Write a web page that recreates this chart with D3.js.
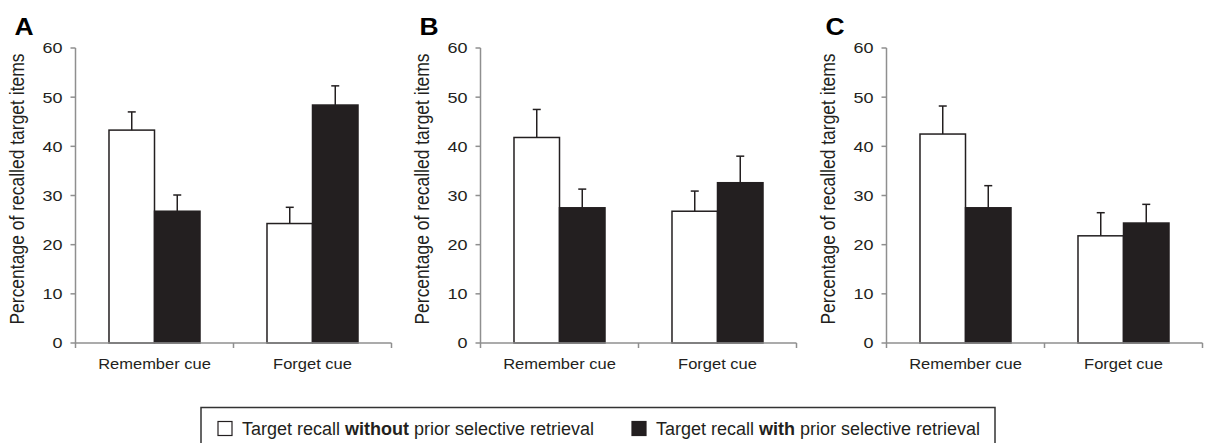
<!DOCTYPE html>
<html>
<head>
<meta charset="utf-8">
<script src="https://cdn.jsdelivr.net/npm/d3@7"></script>
<style>
  body { margin: 0; background: #fff; }
  svg { display: block; font-family: "Liberation Sans", Arial, sans-serif; }
</style>
</head>
<body>
<div id="chart"></div>
<script>
const panelNames = ["A", "B", "C"]
const cues = ["Remember cue", "Forget cue"]
const seriesNames = ["without", "with"]
const yTicks = [0, 10, 20, 30, 40, 50, 60]

// means, per panel, per cue: [without, with]
const meansA = [[43.3, 26.8], [24.3, 48.4]]
const meansB = [[41.8, 27.5], [26.8, 32.6]]
const meansC = [[42.5, 27.5], [21.8, 24.4]]
// top of the error bar (mean + error)
const upperA = [[47.0, 30.1], [27.6, 52.3]]
const upperB = [[47.5, 31.3], [30.9, 38.0]]
const upperC = [[48.2, 32.0], [26.5, 28.2]]

const means = [meansA, meansB, meansC]
const uppers = [upperA, upperB, upperC]

const width = 1206
const height = 443
const dark = "#231f20"
const axisGrey = "#8f8f8f"

const svg = d3.select("#chart")
  .append("svg")
  .attr("width", width)
  .attr("height", height)

const axisLefts = [75.5, 480.5, 886.5]
const plotW = 316

const yScale = d3.scaleLinear()
  .domain([0, 60])
  .range([343, 48])

// the panel text in the figure is a bit wider than plain Arial
const stretched = (g, x, y, sx) => g.append("g")
  .attr("transform", `translate(${x},${y}) scale(${sx},1)`)
  .append("text")

panelNames.forEach((name, p) => {
  const g = svg.append("g").attr("transform", `translate(${axisLefts[p]},0)`)

  const x0 = d3.scaleBand().domain(cues).range([0, plotW]).padding(0)
  const x1 = d3.scaleBand().domain(seriesNames).range([0, x0.bandwidth()])
    .paddingInner(0).paddingOuter(0.736)

  // bars
  cues.forEach((cue, c) => {
    seriesNames.forEach((s, k) => {
      const v = means[p][c][k]
      const cx = x0(cue) + x1(s) + x1.bandwidth() / 2
      g.append("rect")
        .attr("x", x0(cue) + x1(s))
        .attr("y", yScale(v))
        .attr("width", x1.bandwidth())
        .attr("height", yScale(0) - yScale(v))
        .attr("fill", k === 0 ? "#fff" : dark)
        .attr("stroke", dark)
        .attr("stroke-width", 1.5)
      // error bar (upper only)
      g.append("line")
        .attr("x1", cx).attr("x2", cx)
        .attr("y1", yScale(v)).attr("y2", yScale(uppers[p][c][k]))
        .attr("stroke", dark).attr("stroke-width", 1.5)
      g.append("line")
        .attr("x1", cx - 4).attr("x2", cx + 4)
        .attr("y1", yScale(uppers[p][c][k])).attr("y2", yScale(uppers[p][c][k]))
        .attr("stroke", dark).attr("stroke-width", 1.5)
    })
  })

  // y axis
  g.append("line")
    .attr("x1", 0).attr("x2", 0)
    .attr("y1", yScale(60)).attr("y2", yScale(0))
    .attr("stroke", axisGrey).attr("stroke-width", 1.5)
  yTicks.forEach(t => {
    g.append("line")
      .attr("x1", -5).attr("x2", 0)
      .attr("y1", yScale(t)).attr("y2", yScale(t))
      .attr("stroke", axisGrey).attr("stroke-width", 1.5)
    stretched(g, -13, yScale(t), 1.2)
      .attr("dy", "0.36em")
      .attr("text-anchor", "end")
      .attr("font-size", 15)
      .attr("fill", dark)
      .text(t)
  })

  // x axis
  g.append("line")
    .attr("x1", 0).attr("x2", plotW)
    .attr("y1", yScale(0)).attr("y2", yScale(0))
    .attr("stroke", axisGrey).attr("stroke-width", 1.5)
  const bounds = [0].concat(cues.map(c => x0(c) + x0.bandwidth()))
  bounds.forEach(b => {
    g.append("line")
      .attr("x1", b).attr("x2", b)
      .attr("y1", yScale(0)).attr("y2", yScale(0) + 5)
      .attr("stroke", axisGrey).attr("stroke-width", 1.5)
  })
  cues.forEach(cue => {
    stretched(g, x0(cue) + x0.bandwidth() / 2, 369, 1.1)
      .attr("text-anchor", "middle")
      .attr("font-size", 15)
      .attr("fill", dark)
      .text(cue)
  })

  // y label
  g.append("g")
    .attr("transform", `translate(-52,189) scale(1.2,1) rotate(-90)`)
    .append("text")
    .attr("text-anchor", "middle")
    .attr("font-size", 17.5)
    .attr("fill", dark)
    .text("Percentage of recalled target items")

  // panel letter
  stretched(g, -61, 35, 1.15)
    .attr("font-size", 23)
    .attr("font-weight", "bold")
    .attr("fill", "#000")
    .text(name)
})

// legend
const legend = svg.append("g")
legend.append("rect")
  .attr("x", 201).attr("y", 407.5)
  .attr("width", 794).attr("height", 45)
  .attr("fill", "none").attr("stroke", "#333").attr("stroke-width", 1.5)

const legendItems = [
  { x: 218, fill: "#fff", pre: "Target recall ", bold: "without", post: " prior selective retrieval" },
  { x: 632, fill: dark, pre: "Target recall ", bold: "with", post: " prior selective retrieval" }
]
legendItems.forEach(item => {
  legend.append("rect")
    .attr("x", item.x).attr("y", 421.5)
    .attr("width", 14).attr("height", 14)
    .attr("fill", item.fill).attr("stroke", dark).attr("stroke-width", 1.2)
  const t = legend.append("text")
    .attr("x", item.x + 24)
    .attr("y", 434.5)
    .attr("font-size", 18)
    .attr("fill", dark)
  t.append("tspan").text(item.pre)
  t.append("tspan").attr("font-weight", "bold").text(item.bold)
  t.append("tspan").text(item.post)
})
</script>
</body>
</html>
